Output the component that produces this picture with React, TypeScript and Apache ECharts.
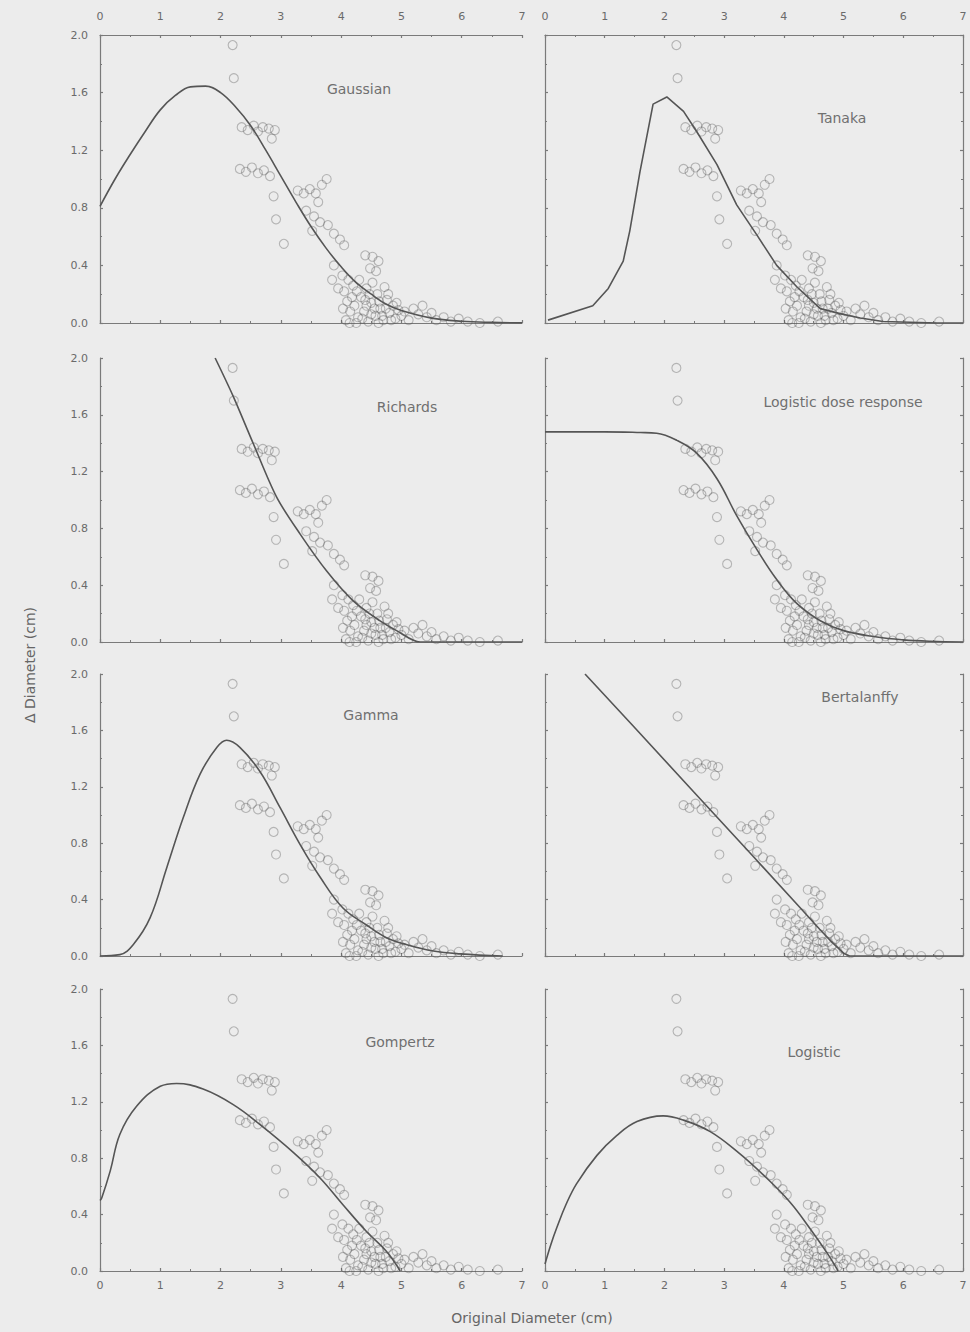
import React, { useEffect, useRef } from "react";
import * as echarts from "echarts";

// Observed data (original diameter, change in diameter), shared by all panels
const observations: [number, number][] = [
  [2.2, 1.93], [2.22, 1.7],
  [2.35, 1.36], [2.45, 1.34], [2.55, 1.37], [2.62, 1.33], [2.7, 1.36], [2.8, 1.35], [2.85, 1.28], [2.9, 1.34],
  [2.32, 1.07], [2.42, 1.05], [2.52, 1.08], [2.62, 1.04], [2.72, 1.06], [2.82, 1.02],
  [2.88, 0.88], [2.92, 0.72], [3.05, 0.55],
  [3.28, 0.92], [3.38, 0.9], [3.48, 0.93], [3.58, 0.9], [3.68, 0.96], [3.76, 1.0], [3.62, 0.84],
  [3.42, 0.78], [3.55, 0.74], [3.65, 0.7], [3.52, 0.64], [3.78, 0.68], [3.88, 0.62], [3.98, 0.58], [4.05, 0.54],
  [4.4, 0.47], [4.52, 0.46], [4.62, 0.43], [4.58, 0.36], [4.48, 0.38],
  [3.88, 0.4], [3.85, 0.3], [3.95, 0.24], [4.02, 0.33],
  [4.05, 0.22], [4.1, 0.15], [4.15, 0.08], [4.08, 0.02], [4.2, 0.26], [4.22, 0.12], [4.28, 0.04], [4.3, 0.3],
  [4.33, 0.18], [4.38, 0.08], [4.42, 0.24], [4.45, 0.01], [4.5, 0.14], [4.52, 0.28], [4.57, 0.05], [4.6, 0.2],
  [4.65, 0.1], [4.7, 0.02], [4.72, 0.25], [4.76, 0.16], [4.8, 0.07], [4.86, 0.12], [4.9, 0.03], [4.95, 0.09],
  [5.0, 0.05], [4.25, 0.0], [4.62, 0.0], [4.12, 0.3], [4.42, 0.12],
  [4.03, 0.1], [4.18, 0.18], [4.26, 0.22], [4.35, 0.03], [4.4, 0.16], [4.47, 0.2], [4.55, 0.1], [4.63, 0.15],
  [4.68, 0.05], [4.74, 0.1], [4.83, 0.02], [4.92, 0.14], [4.14, 0.0], [4.5, 0.06], [4.78, 0.2],
  [5.05, 0.08], [5.12, 0.02], [5.2, 0.1], [5.28, 0.06], [5.35, 0.12], [5.42, 0.04], [5.5, 0.07], [5.58, 0.02],
  [5.7, 0.04], [5.82, 0.01], [5.95, 0.03], [6.1, 0.01], [6.3, 0.0], [6.6, 0.01],
];

// Fitted curves
const gaussianCurve: [number, number][] = [
  [0, 0.81], [0.25, 1.0], [0.5, 1.17], [0.75, 1.33], [1.0, 1.48], [1.25, 1.58], [1.5, 1.64], [1.75, 1.645],
  [2.0, 1.6], [2.25, 1.5], [2.5, 1.37], [2.75, 1.2], [3.0, 1.02], [3.25, 0.84], [3.5, 0.67], [3.75, 0.52],
  [4.0, 0.39], [4.25, 0.28], [4.5, 0.2], [4.75, 0.13], [5.0, 0.087], [5.5, 0.034], [6.0, 0.012], [6.5, 0.004], [7.0, 0.001],
];
const tanakaCurve: [number, number][] = [
  [0.05, 0.02], [0.8, 0.12], [1.06, 0.24], [1.31, 0.43], [1.42, 0.64], [1.59, 1.05], [1.81, 1.52], [2.04, 1.57],
  [2.32, 1.47], [2.54, 1.33], [2.88, 1.1], [3.21, 0.82], [3.55, 0.61], [3.88, 0.4], [4.22, 0.25], [4.61, 0.1],
  [4.94, 0.065], [5.28, 0.035], [5.66, 0.01], [6.57, 0.0], [7.0, 0.0],
];
const richardsCurve: [number, number][] = [
  [1.91, 2.0], [2.21, 1.73], [2.54, 1.4], [2.93, 1.02], [3.32, 0.76], [3.76, 0.5], [4.2, 0.29], [4.64, 0.15],
  [4.92, 0.08], [5.31, 0.0], [7.0, 0.0],
];
const logisticDoseCurve: [number, number][] = [
  [0, 1.48], [1.0, 1.48], [1.6, 1.475], [1.87, 1.47], [2.21, 1.42], [2.54, 1.33], [2.88, 1.15], [3.21, 0.89],
  [3.55, 0.65], [3.88, 0.44], [4.22, 0.27], [4.61, 0.15], [5.0, 0.08], [5.56, 0.035], [6.0, 0.015], [6.45, 0.005], [7.0, 0.0],
];
const gammaCurve: [number, number][] = [
  [0, 0], [0.33, 0.01], [0.55, 0.08], [0.83, 0.27], [1.11, 0.63], [1.38, 0.98], [1.66, 1.29], [1.94, 1.48],
  [2.1, 1.53], [2.32, 1.48], [2.65, 1.31], [2.99, 1.05], [3.32, 0.79], [3.65, 0.56], [4.03, 0.34], [4.42, 0.22],
  [4.75, 0.13], [5.09, 0.08], [5.53, 0.035], [5.97, 0.015], [6.68, 0.0],
];
const bertalanffyCurve: [number, number][] = [
  [0.67, 2.0], [1.5, 1.62], [2.5, 1.16], [3.5, 0.7], [4.3, 0.33], [4.6, 0.19], [4.8, 0.1], [5.0, 0.02], [5.1, 0.0], [7.0, 0.0],
];
const gompertzCurve: [number, number][] = [
  [0, 0.5], [0.03, 0.52], [0.17, 0.71], [0.33, 0.97], [0.61, 1.17], [1.0, 1.31], [1.27, 1.33], [1.71, 1.29],
  [2.21, 1.18], [2.65, 1.04], [3.21, 0.84], [3.65, 0.66], [4.03, 0.47], [4.42, 0.28], [4.75, 0.14], [4.98, 0.0],
];
const logisticCurve: [number, number][] = [
  [0, 0.05], [0.1, 0.19], [0.2, 0.31], [0.35, 0.47], [0.53, 0.62], [0.87, 0.82], [1.2, 0.96], [1.54, 1.06], [1.98, 1.1],
  [2.32, 1.07], [2.76, 0.99], [3.21, 0.85], [3.66, 0.68], [4.1, 0.49], [4.44, 0.3], [4.72, 0.13], [4.91, 0.0],
];

const panelNames = [
  "Gaussian", "Tanaka", "Richards", "Logistic dose response",
  "Gamma", "Bertalanffy", "Gompertz", "Logistic",
];
const panelCurves = [
  gaussianCurve, tanakaCurve, richardsCurve, logisticDoseCurve,
  gammaCurve, bertalanffyCurve, gompertzCurve, logisticCurve,
];
const panelSmooth = [0.4, false, 0.3, 0.4, 0.4, false, 0.4, 0.4];

const xTitle = "Original Diameter (cm)";
const yTitle = "\u0394 Diameter (cm)";

// Layout
const colLeft = [100, 545];
const colWidth = [422, 418];
const rowTop = [35, 358, 674, 989];
const rowHeight = [288, 284, 282, 282];
const labelPos: [number, number][] = [
  [359, 89], [842, 118], [407, 407], [843, 402],
  [371, 715], [860, 697], [400, 1042], [814, 1052],
];

const AX = "#7a7a7a";
const TXT = "#6a6a6a";
const FONT = "DejaVu Sans";

export default function App() {
  const ref = useRef<HTMLDivElement>(null);
  useEffect(() => {
    if (!ref.current) return;
    const chart = echarts.init(ref.current, undefined, { renderer: "svg" });
    const grids: any[] = [];
    const xAxes: any[] = [];
    const yAxes: any[] = [];
    const series: any[] = [];
    const lineStyle = { color: AX, width: 1.2 };
    const tick = { show: true, inside: true, length: 3, lineStyle };
    const minor = { show: true, splitNumber: 2, length: 2, lineStyle: { color: AX, width: 1 } };
    const lab = (show: boolean, margin: number, fmt?: any) => ({
      show, color: TXT, fontSize: 11, fontFamily: FONT, margin, formatter: fmt,
    });
    for (let i = 0; i < 8; i++) {
      const col = i % 2;
      const row = Math.floor(i / 2);
      grids.push({
        left: colLeft[col], top: rowTop[row], width: colWidth[col], height: rowHeight[row],
        containLabel: false, show: false,
      });
      xAxes.push({
        type: "value", gridIndex: i, min: 0, max: 7, interval: 1, position: "bottom",
        axisLine: { show: true, onZero: false, lineStyle }, axisTick: tick, minorTick: minor,
        axisLabel: lab(row === 3, 9), splitLine: { show: false },
      });
      yAxes.push({
        type: "value", gridIndex: i, min: 0, max: 2, interval: 0.4, position: "left",
        axisLine: { show: true, onZero: false, lineStyle }, axisTick: tick, minorTick: minor,
        axisLabel: lab(col === 0, 12, (v: number) => v.toFixed(1)), splitLine: { show: false },
      });
    }
    // top axes for first row
    for (let i = 0; i < 2; i++) {
      xAxes.push({
        type: "value", gridIndex: i, min: 0, max: 7, interval: 1, position: "top",
        axisLine: { show: true, onZero: false, lineStyle }, axisTick: tick, minorTick: minor,
        axisLabel: lab(true, 13), splitLine: { show: false },
      });
    }
    // right border axes for right column
    [1, 3, 5, 7].forEach((i) => {
      yAxes.push({
        type: "value", gridIndex: i, min: 0, max: 2, interval: 0.4, position: "right",
        axisLine: { show: true, onZero: false, lineStyle }, axisTick: tick, minorTick: minor,
        axisLabel: { show: false }, splitLine: { show: false },
      });
    });
    for (let i = 0; i < 8; i++) {
      series.push({
        type: "scatter", xAxisIndex: i, yAxisIndex: i, data: observations,
        symbol: "circle", symbolSize: 9,
        itemStyle: { color: "rgba(0,0,0,0)", borderColor: "rgba(80,80,80,0.45)", borderWidth: 1.1 },
        silent: true,
      });
      series.push({
        type: "line", xAxisIndex: i, yAxisIndex: i, data: panelCurves[i],
        showSymbol: false, smooth: panelSmooth[i], clip: true,
        lineStyle: { color: "#555555", width: 1.6 }, silent: true,
      });
    }
    const graphic: any[] = panelNames.map((name, i) => ({
      type: "text", x: labelPos[i][0], y: labelPos[i][1],
      style: { text: name, fill: "#707070", font: `14px ${FONT}`, align: "center", verticalAlign: "middle" },
    }));
    graphic.push({
      type: "text", x: 532, y: 1318,
      style: { text: xTitle, fill: "#666", font: `14px ${FONT}`, align: "center", verticalAlign: "middle" },
    });
    graphic.push({
      type: "text", x: 30, y: 665, rotation: Math.PI / 2,
      style: { text: yTitle, fill: "#666", font: `14px ${FONT}`, align: "center", verticalAlign: "middle" },
    });
    chart.setOption({
      animation: false,
      backgroundColor: "#ececec",
      grid: grids,
      xAxis: xAxes,
      yAxis: yAxes,
      series,
      graphic,
    });
    return () => chart.dispose();
  }, []);
  return (
    <div
      ref={ref}
      style={{ position: "absolute", left: 0, top: 0, width: 970, height: 1332 }}
    />
  );
}
